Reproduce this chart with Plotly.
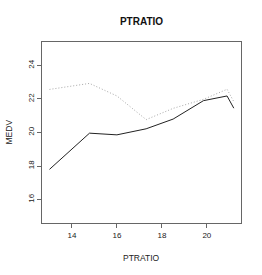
import plotly.graph_objects as go

ptratio = [13.0, 14.78, 16.0, 17.3, 18.5, 19.85, 20.9, 21.2]
medv_solid = [17.8, 19.96, 19.86, 20.22, 20.8, 21.9, 22.18, 21.45]
medv_dotted = [22.57, 22.93, 22.18, 20.77, 21.44, 21.98, 22.58, 21.84]
x_ticks = [14, 16, 18, 20]
y_ticks = [16, 18, 20, 22, 24]

FONT = "Liberation Sans, Arial, sans-serif"
W, H = 262, 275
L, R, T, B = 42, 21, 42, 52

fig = go.Figure()
fig.add_trace(go.Scatter(x=ptratio, y=medv_dotted, mode="lines",
                         line=dict(color="#a8a8a8", width=1, dash="1px,2px"),
                         showlegend=False, hoverinfo="skip"))
fig.add_trace(go.Scatter(x=ptratio, y=medv_solid, mode="lines",
                         line=dict(color="#222222", width=1),
                         showlegend=False, hoverinfo="skip"))

axis_common = dict(showgrid=False, zeroline=False, showline=True, mirror=True,
                   linecolor="#666666", linewidth=1, ticks="outside", ticklen=4,
                   tickcolor="#666666", automargin=False,
                   tickfont=dict(family=FONT, size=8, color="#222"))

fig.update_layout(
    width=W, height=H,
    margin=dict(l=L, r=R, t=T, b=B),
    plot_bgcolor="white", paper_bgcolor="white",
    title=dict(text="<b>PTRATIO</b>", x=(L + W - R) / 2 / W, xanchor="center",
               y=1 - 21 / H, yanchor="middle",
               font=dict(family=FONT, size=10, color="#111")),
    xaxis=dict(range=[12.667, 21.52], tickvals=x_ticks, **axis_common),
    yaxis=dict(range=[14.6, 25.4], tickvals=y_ticks, tickangle=-90, **axis_common),
    annotations=[
        dict(text="PTRATIO", xref="paper", yref="paper", x=0.5,
             y=-(258 - (H - B)) / (H - T - B), xanchor="center", yanchor="middle",
             showarrow=False, font=dict(family=FONT, size=8.5, color="#222")),
        dict(text="MEDV", xref="paper", yref="paper", x=-(L - 8) / (W - L - R),
             y=0.5, xanchor="center", yanchor="middle", textangle=-90,
             showarrow=False, font=dict(family=FONT, size=8.5, color="#222")),
    ],
)

fig.write_html("out.html", config={"displayModeBar": False, "staticPlot": True},
               post_script="document.body.style.margin='0';document.body.style.padding='0';document.body.style.overflow='hidden';")
